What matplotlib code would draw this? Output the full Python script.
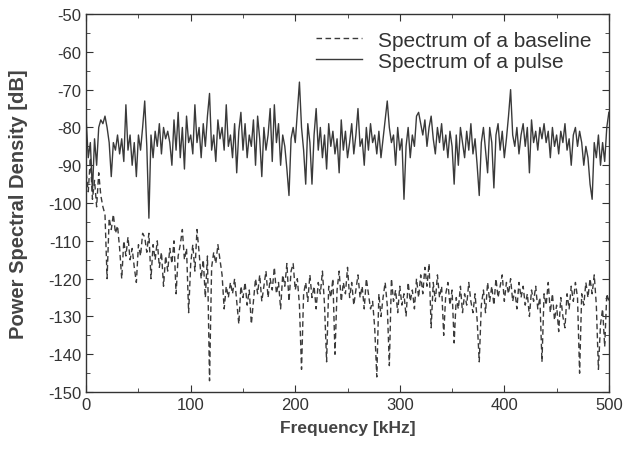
import numpy as np
import matplotlib
matplotlib.use("Agg")
import matplotlib.pyplot as plt
from matplotlib.ticker import MultipleLocator

plt.rcParams['font.family'] = ['Liberation Sans', 'DejaVu Sans']
plt.rcParams['axes.unicode_minus'] = False

# PSD of a pulse, dB, one value every 2 kHz from 0 to 500 kHz
pulse = [
    -78, -88, -84, -97, -83, -90, -80, -78, -79, -77,
    -80, -84, -93, -84, -86, -82, -87, -83, -89, -74,
    -86, -82, -90, -84, -93, -82, -86, -80, -73, -85,
    -104, -82, -88, -81, -85, -79, -87, -80, -83, -81,
    -84, -90, -78, -86, -76, -88, -80, -91, -77, -84,
    -82, -87, -74, -84, -80, -88, -79, -85, -77, -71,
    -86, -82, -89, -78, -83, -80, -86, -74, -85, -82,
    -88, -79, -92, -81, -76, -86, -79, -88, -82, -85,
    -78, -90, -77, -83, -93, -80, -86, -82, -75, -89,
    -74, -84, -79, -90, -82, -85, -91, -98, -83, -80,
    -84, -76, -68, -80, -86, -95, -79, -84, -95, -82,
    -75, -86, -80, -88, -82, -91, -79, -85, -81, -87,
    -83, -92, -78, -86, -81, -88, -84, -79, -87, -82,
    -75, -85, -83, -90, -80, -86, -79, -84, -82, -87,
    -81, -88, -83, -78, -73, -80, -84, -82, -90, -80,
    -86, -83, -99, -85, -80, -88, -82, -85, -77, -76,
    -79, -82, -78, -85, -80, -77, -83, -87, -80, -84,
    -79, -86, -82, -88, -81, -85, -95, -82, -90, -80,
    -84, -88, -81, -86, -79, -87, -83, -90, -98, -84,
    -80, -86, -92, -80, -84, -96, -82, -79, -86, -81,
    -88, -83, -77, -70, -82, -85, -80, -87, -82, -79,
    -85, -80, -92, -78, -84, -81, -86, -80, -83, -79,
    -84, -81, -88, -80, -85, -82, -87, -81, -84, -79,
    -86, -83, -90, -82, -80, -85, -81, -84, -90, -85,
    -88, -95, -99, -84, -88, -82, -90, -84, -89, -80,
    -76,
]

# PSD of a baseline, dB, same frequency grid
baseline = [
    -92, -97, -88, -99, -94, -101, -92, -98, -101, -103,
    -120, -104, -107, -103, -108, -106, -112, -120, -110, -114,
    -109, -115, -112, -117, -121, -111, -114, -108, -109, -113,
    -108, -120, -111, -115, -110, -117, -113, -122, -114, -118,
    -112, -116, -110, -124, -114, -111, -107, -115, -112, -129,
    -116, -111, -118, -107, -113, -120, -115, -125, -114, -147,
    -117, -113, -116, -111, -115, -119, -128, -122, -125, -121,
    -124, -120, -126, -132, -122, -125, -121, -127, -123, -132,
    -126, -120, -124, -119, -126, -122, -118, -125, -120, -123,
    -117, -124, -121, -128, -119, -122, -116, -126, -118, -116,
    -123, -120, -127, -144, -124, -121, -126, -119, -125, -122,
    -128, -121, -124, -118, -127, -142, -122, -125, -120, -140,
    -123, -118, -126, -121, -124, -117, -125, -121, -127, -123,
    -119, -125, -122, -128, -120, -124, -128, -126, -133, -146,
    -124, -130, -125, -121, -127, -143, -120, -126, -123, -129,
    -122, -127, -124, -130, -121, -126, -123, -128, -120, -125,
    -119, -124, -117, -122, -116, -133, -121, -126, -119, -125,
    -122, -135, -124, -121, -127, -123, -137, -125, -128, -122,
    -129, -124, -127, -121, -126, -129, -124, -131, -142, -127,
    -123, -129, -121, -126, -122, -127, -120, -125, -122, -119,
    -126, -121, -124, -120, -126, -123, -128, -121, -125, -122,
    -127, -124, -130, -123, -126, -122, -128, -125, -142, -124,
    -127, -121, -129, -124, -131, -127, -134, -125, -130, -133,
    -124, -128, -122, -126, -121, -125, -145, -124, -127, -121,
    -125, -120, -124, -119, -127, -144, -132, -128, -138, -124,
    -126,
]

freq = np.linspace(0, 500, len(pulse))

fig = plt.figure(figsize=(6.29, 4.56), dpi=100)
ax = fig.add_axes([0.137, 0.138, 0.831, 0.829])

ax.plot(freq, baseline, color='#3a3a3a', lw=1.0, ls=(0, (4, 2.5)), label='Spectrum of a baseline')
ax.plot(freq, pulse, color='#3a3a3a', lw=1.0, label='Spectrum of a pulse')

ax.set_xlim(0, 500)
ax.set_ylim(-150, -50)
ax.xaxis.set_major_locator(MultipleLocator(100))
ax.xaxis.set_minor_locator(MultipleLocator(50))
ax.yaxis.set_major_locator(MultipleLocator(10))
ax.yaxis.set_minor_locator(MultipleLocator(5))
ax.tick_params(which='both', direction='in', top=True, right=True, labelsize=12, colors='#333333')
ax.tick_params(which='major', length=5)
ax.tick_params(which='minor', length=3)
for sp in ax.spines.values():
    sp.set_color('#333333')
    sp.set_linewidth(1.0)

ax.set_xlabel('Frequency [kHz]', fontsize=12.5, fontweight='bold', color='#444444', labelpad=6)
ax.set_ylabel('Power Spectral Density [dB]', fontsize=14.5, fontweight='bold', color='#444444', labelpad=14)

leg = ax.legend(loc='upper right', frameon=False, fontsize=15, handlelength=2.2,
                handletextpad=0.8, borderaxespad=0.3, labelspacing=0.1,
                bbox_to_anchor=(0.995, 0.995))
for t in leg.get_texts():
    t.set_color('#333333')

fig.savefig('out.png', dpi=100)
